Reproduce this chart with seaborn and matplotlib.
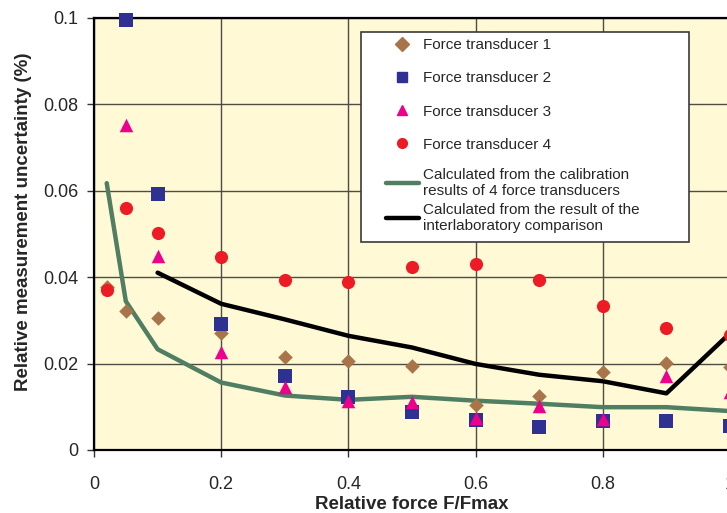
import pandas as pd
import matplotlib
matplotlib.use('Agg')
import matplotlib.pyplot as plt
from matplotlib.lines import Line2D
from matplotlib.patches import Rectangle
import seaborn as sns

# --------------------------
# Data
# --------------------------
force_ratio = [0.05, 0.1, 0.2, 0.3, 0.4, 0.5, 0.6, 0.7, 0.8, 0.9, 1.0]

ft1_x = [0.02] + force_ratio
ft1_y = [0.0378, 0.0322, 0.0305, 0.0271, 0.0215, 0.0206, 0.0195, 0.0104, 0.0124, 0.0180, 0.0202, 0.0192]

ft2_x = force_ratio
ft2_y = [0.0994, 0.0593, 0.0292, 0.0172, 0.0122, 0.0089, 0.0070, 0.0054, 0.0066, 0.0068, 0.0056]

ft3_x = force_ratio
ft3_y = [0.0752, 0.0448, 0.0226, 0.0145, 0.0114, 0.0112, 0.0073, 0.0102, 0.0071, 0.0170, 0.0135]

ft4_x = [0.02] + force_ratio
ft4_y = [0.0371, 0.0560, 0.0502, 0.0447, 0.0392, 0.0389, 0.0423, 0.0429, 0.0392, 0.0334, 0.0281, 0.0266]

calib_x = [0.02] + force_ratio
calib_y = [0.0617, 0.0344, 0.0233, 0.0156, 0.0126, 0.0116, 0.0123, 0.0114, 0.0107, 0.0099, 0.0099, 0.0090]

interlab_x = [0.1, 0.2, 0.3, 0.4, 0.5, 0.6, 0.7, 0.8, 0.9, 1.0]
interlab_y = [0.0410, 0.0338, 0.0302, 0.0264, 0.0237, 0.0199, 0.0174, 0.0159, 0.0131, 0.0270]

labels = ['Force transducer 1', 'Force transducer 2', 'Force transducer 3', 'Force transducer 4']
line_labels = ['Calculated from the calibration\nresults of 4 force transducers',
               'Calculated from the result of the\ninterlaboratory comparison']

x_ticks = [0, 0.2, 0.4, 0.6, 0.8, 1.0]
x_ticklabels = ['0', '0.2', '0.4', '0.6', '0.8', '1']
y_ticks = [0, 0.02, 0.04, 0.06, 0.08, 0.1]
y_ticklabels = ['0', '0.02', '0.04', '0.06', '0.08', '0.1']

colors = {labels[0]: '#a8754a', labels[1]: '#2e3192', labels[2]: '#ec008c', labels[3]: '#ed1c24'}
markers = {labels[0]: 'D', labels[1]: 's', labels[2]: '^', labels[3]: 'o'}
sizes = {labels[0]: 55, labels[1]: 100, labels[2]: 95, labels[3]: 90}
calib_color = '#4f7e62'

points = pd.concat([
    pd.DataFrame({'x': ft1_x, 'y': ft1_y, 'series': labels[0]}),
    pd.DataFrame({'x': ft2_x, 'y': ft2_y, 'series': labels[1]}),
    pd.DataFrame({'x': ft3_x, 'y': ft3_y, 'series': labels[2]}),
    pd.DataFrame({'x': ft4_x, 'y': ft4_y, 'series': labels[3]}),
], ignore_index=True)

# --------------------------
# Plot
# --------------------------
sns.set_style('ticks')
plt.rcParams['font.family'] = ['Liberation Sans', 'DejaVu Sans']

fig = plt.figure(figsize=(7.27, 5.13), dpi=100)
ax = fig.add_axes([94 / 727, 63 / 513, 636 / 727, 432.5 / 513])
ax.set_facecolor('#fff9d6')

ax.grid(True, color='#4d4d45', linewidth=1.0)
ax.set_axisbelow(True)

sns.lineplot(x=calib_x, y=calib_y, color=calib_color, linewidth=3.2, ax=ax, zorder=3)
sns.lineplot(x=interlab_x, y=interlab_y, color='black', linewidth=3.2, ax=ax, zorder=3)

for name in labels:
    sub = points[points['series'] == name]
    sns.scatterplot(data=sub, x='x', y='y', marker=markers[name], color=colors[name],
                    s=sizes[name], linewidth=0, ax=ax, zorder=4, legend=False, clip_on=False)

ax.set_xlim(0, 1.0)
ax.set_ylim(0, 0.1)
ax.set_xticks(x_ticks)
ax.set_xticklabels(x_ticklabels)
ax.set_yticks(y_ticks)
ax.set_yticklabels(y_ticklabels)
ax.tick_params(axis='both', labelsize=13, color='#333333', width=1, length=5)
ax.tick_params(axis='y', pad=6)
ax.tick_params(axis='x', pad=14)
for side in ['left', 'bottom', 'top']:
    ax.spines[side].set_linewidth(1.6)
    ax.spines[side].set_color('black')
ax.spines['right'].set_visible(False)

ax.set_xlabel('Relative force F/Fmax', fontsize=13.5, fontweight='bold', labelpad=2)
ax.set_ylabel('Relative measurement uncertainty (%)', fontsize=13.5, fontweight='bold', labelpad=8)
ax.yaxis.label.set_y(0.528)

# legend box drawn by hand, two borderless legends inside it
frame = Rectangle((0.4198, 0.4809), 0.5157, 0.4855, transform=ax.transAxes,
                  facecolor='white', edgecolor='#3a3a3a', linewidth=1.2, zorder=5)
ax.add_patch(frame)

marker_handles = [Line2D([], [], linestyle='none', marker=markers[n], color=colors[n], markersize=7)
                  for n in labels]
leg1 = ax.legend(marker_handles, labels, loc='upper left', bbox_to_anchor=(0.459, 0.9526),
                 fontsize=11, frameon=False, borderpad=0, borderaxespad=0,
                 labelspacing=1.26, handlelength=2.15, handletextpad=0.3)
leg1.set_zorder(6)
ax.add_artist(leg1)

line_handles = [Line2D([], [], color=calib_color, linewidth=3.2), Line2D([], [], color='black', linewidth=3.2)]
leg2 = ax.legend(line_handles, line_labels, loc='upper left', bbox_to_anchor=(0.459, 0.652),
                 fontsize=11, frameon=False, borderpad=0, borderaxespad=0,
                 labelspacing=0.3, handlelength=2.15, handletextpad=0.3)
leg2.set_zorder(6)
for t in leg2.get_texts():
    t.set_linespacing(1.2)

plt.savefig('out.png', dpi=100)
